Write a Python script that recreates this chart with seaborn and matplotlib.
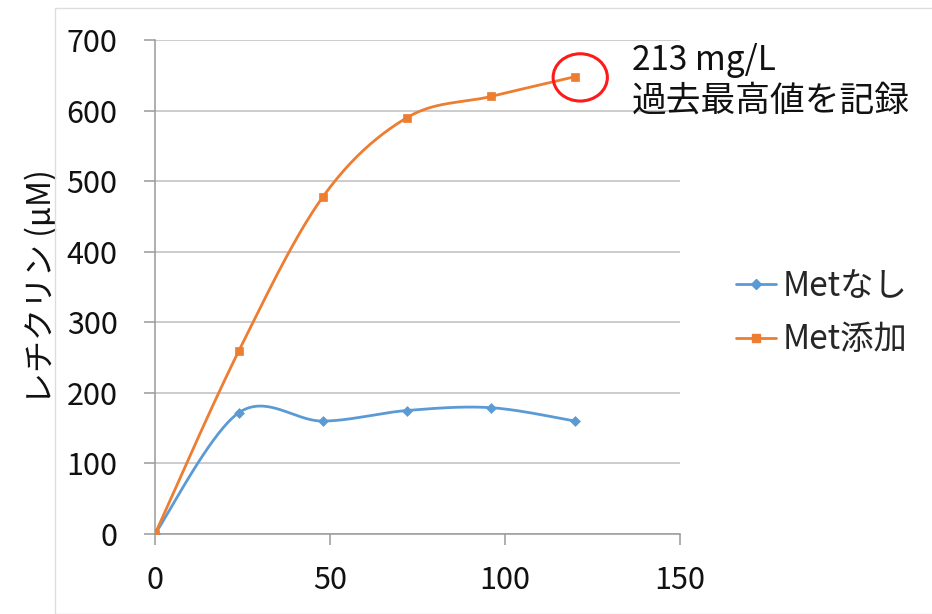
import numpy as np
import matplotlib
matplotlib.use("Agg")
import matplotlib.pyplot as plt
import seaborn as sns
from matplotlib.patches import Ellipse, Rectangle
from matplotlib.lines import Line2D

hours = [0, 24, 48, 72, 96, 120]
met_none = [0, 172, 160, 175, 179, 160]
met_add = [0, 260, 478, 590, 620, 648]
series_names = ["Metなし", "Met添加"]
y_ticks = [0, 100, 200, 300, 400, 500, 600, 700]
x_ticks = [0, 50, 100, 150]
y_label = "レチクリン (μM)"
note_lines = ["213 mg/L", "過去最高値を記録"]

sns.set_style("white")
plt.rcParams['font.family'] = ['Noto Sans CJK JP', 'DejaVu Sans']

blue = "#5B9BD5"
orange = "#ED7D31"


def smooth(xs, ys, n=40):
    p = np.column_stack([xs, ys]).astype(float)
    pts = [p[0]]
    m = len(p)
    for i in range(m - 1):
        p0 = p[i - 1] if i > 0 else p[i]
        p1 = p[i]
        p2 = p[i + 1]
        p3 = p[i + 2] if i + 2 < m else p[i + 1]
        c1 = p1 + (p2 - p0) / 6
        c2 = p2 - (p3 - p1) / 6
        t = np.linspace(0, 1, n)[1:, None]
        b = ((1 - t) ** 3) * p1 + 3 * ((1 - t) ** 2) * t * c1 + 3 * (1 - t) * t ** 2 * c2 + t ** 3 * p2
        pts.extend(b)
    pts = np.array(pts)
    return pts[:, 0], pts[:, 1]


fig = plt.figure(figsize=(9.32, 6.14), dpi=100)
ax = fig.add_axes([155 / 932, 1 - 534 / 614, 525 / 932, 494 / 614])

for ys, col, mk, ms in [(met_none, blue, "D", 5), (met_add, orange, "s", 6)]:
    sx, sy = smooth(hours, ys)
    ax.plot(sx, sy, color=col, lw=2.0, zorder=3)
    sns.scatterplot(x=hours, y=ys, ax=ax, color=col, marker=mk, s=ms ** 2,
                    edgecolor=col, linewidth=0.5, zorder=4, legend=False)

ax.set_xlim(0, 150)
ax.set_ylim(0, 700)
ax.set_xticks(x_ticks)
ax.set_yticks(y_ticks)
ax.yaxis.grid(True, color="#BFBFBF", lw=1.1)
ax.xaxis.grid(False)
for s in ["top", "right"]:
    ax.spines[s].set_visible(False)
for s in ["left", "bottom"]:
    ax.spines[s].set_color("#9A9A9A")
    ax.spines[s].set_linewidth(1.1)
ax.tick_params(axis="both", direction="out", length=8, width=1.1, color="#9A9A9A",
               labelsize=22, labelcolor="#111111", left=True, bottom=True)
ax.tick_params(axis="y", pad=19)
ax.tick_params(axis="x", pad=14)
ax.set_ylabel(y_label, fontsize=23, color="#111111", labelpad=6)
ax.set_axisbelow(True)

# annotation ellipse
ell = Ellipse((121.5, 647), width=15.5, height=67, fill=False, edgecolor="#FF1A1A",
              lw=2.2, clip_on=False, zorder=5)
ax.add_patch(ell)
fig.text(632 / 932, 1 - 60 / 614, note_lines[0], fontsize=24, va="center", ha="left", color="#111111")
fig.text(632 / 932, 1 - 101 / 614, note_lines[1], fontsize=25, va="center", ha="left", color="#111111")

handles = [Line2D([], [], color=blue, lw=2.0, marker="D", markersize=5),
           Line2D([], [], color=orange, lw=2.0, marker="s", markersize=6)]
fig.legend(handles, series_names, loc="center left", bbox_to_anchor=(736 / 932, 1 - 313 / 614),
           frameon=False, fontsize=24, handlelength=1.2, handletextpad=0.2, labelspacing=0.55,
           borderpad=0, borderaxespad=0)

fig.patches.append(Rectangle((55 / 932, 0), 1, 1 - 8 / 614, transform=fig.transFigure,
                             fill=False, edgecolor="#DDDDDD", lw=1.0))

fig.savefig("out.png", dpi=100)
